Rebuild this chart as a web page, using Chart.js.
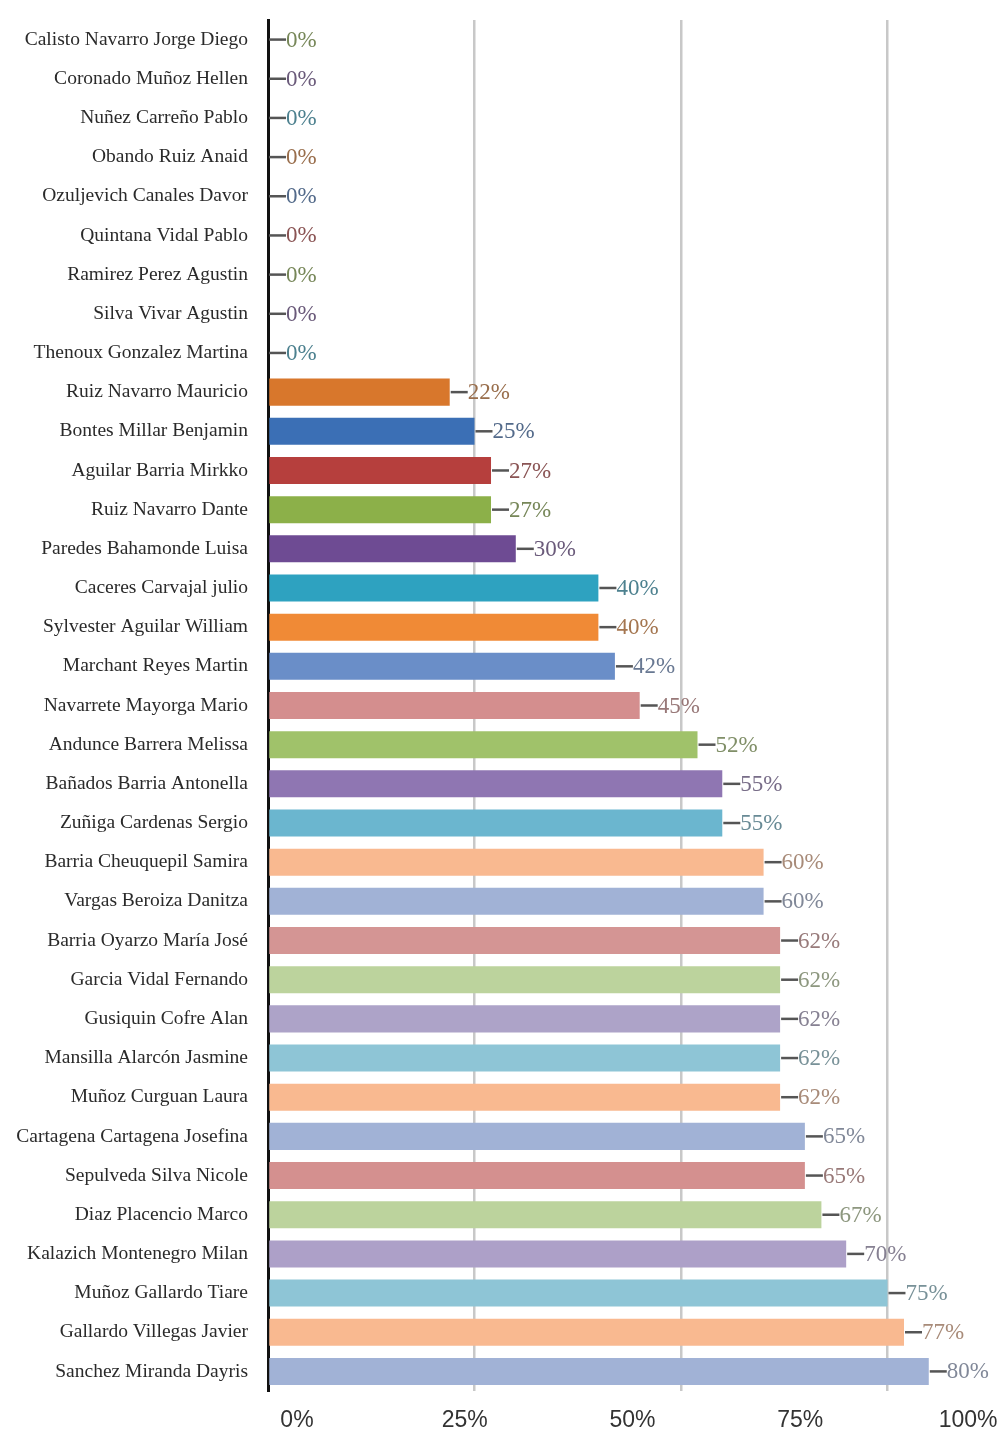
<!DOCTYPE html>
<html>
<head>
<meta charset="utf-8">
<script src="https://cdn.jsdelivr.net/npm/chart.js@4/dist/chart.umd.min.js"></script>
<style>
    html, body { margin: 0; padding: 0; background: #ffffff; }
    #wrap { width: 1007px; height: 1434px; }
</style>
</head>
<body>
<div id="wrap"><canvas id="chart" width="1007" height="1434"></canvas></div>
<script>
const names = [
    "Calisto Navarro Jorge Diego", "Coronado Muñoz Hellen", "Nuñez Carreño Pablo",
    "Obando Ruiz Anaid", "Ozuljevich Canales Davor", "Quintana Vidal Pablo",
    "Ramirez Perez Agustin", "Silva Vivar Agustin", "Thenoux Gonzalez Martina",
    "Ruiz Navarro Mauricio", "Bontes Millar Benjamin", "Aguilar Barria Mirkko",
    "Ruiz Navarro Dante", "Paredes Bahamonde Luisa", "Caceres Carvajal julio",
    "Sylvester Aguilar William", "Marchant Reyes Martin", "Navarrete Mayorga Mario",
    "Andunce Barrera Melissa", "Bañados Barria Antonella", "Zuñiga Cardenas Sergio",
    "Barria Cheuquepil Samira", "Vargas Beroiza Danitza", "Barria Oyarzo María José",
    "Garcia Vidal Fernando", "Gusiquin Cofre Alan", "Mansilla Alarcón Jasmine",
    "Muñoz Curguan Laura", "Cartagena Cartagena Josefina", "Sepulveda Silva Nicole",
    "Diaz Placencio Marco", "Kalazich Montenegro Milan", "Muñoz Gallardo Tiare",
    "Gallardo Villegas Javier", "Sanchez Miranda Dayris"
];

const percent = [
    0, 0, 0, 0, 0, 0, 0, 0, 0,
    22, 25, 27, 27, 30, 40, 40, 42, 45, 52, 55, 55,
    60, 60, 62, 62, 62, 62, 62, 65, 65, 67, 70, 75, 77, 80
];

const barColors = [
    "#8cb049", "#6e4b93", "#2ea2c0", "#d8772c", "#3b6fb5", "#b63f3d",
    "#8cb049", "#6e4b93", "#2ea2c0",
    "#d8772c", "#3b6fb5", "#b63f3d", "#8cb049", "#6e4b93", "#2ea2c0",
    "#f08a36", "#6a8ec8", "#d48e8e", "#a0c26a", "#8f76b2", "#6bb6cf",
    "#f9b990", "#a1b2d6", "#d49594", "#bcd39d", "#ada3c8", "#8ec5d6",
    "#f9b990", "#a1b2d6", "#d4908f", "#bcd39d", "#ada0c8", "#8ec5d6",
    "#f9b990", "#a1b2d6"
];

const bottomTicks = [0, 25, 50, 75, 100];

// muted text colour for the value labels
function labelColor(hex) {
    const r = parseInt(hex.slice(1, 3), 16), g = parseInt(hex.slice(3, 5), 16), b = parseInt(hex.slice(5, 7), 16);
    const mix = (c) => Math.round(c * 0.45 + 0x66 * 0.55);
    return "rgb(" + mix(r) + "," + mix(g) + "," + mix(b) + ")";
}

const valueLabels = {
    id: "valueLabels",
    afterDatasetsDraw(chart) {
        const ctx = chart.ctx;
        const meta = chart.getDatasetMeta(0);
        ctx.save();
        meta.data.forEach((bar, i) => {
            const x = bar.x + 1, y = bar.y;
            ctx.strokeStyle = "#555";
            ctx.lineWidth = 2.5;
            ctx.beginPath();
            ctx.moveTo(x, y);
            ctx.lineTo(x + 17, y);
            ctx.stroke();
            ctx.font = "23px 'Liberation Serif'";
            ctx.textBaseline = "middle";
            ctx.textAlign = "left";
            ctx.fillStyle = labelColor(barColors[i]);
            ctx.fillText(percent[i] + "%", x + 17, y + 1);
        });
        ctx.restore();
    }
};

// keep scales from adding their own label padding to the chart area
function noPad(scale) {
    scale.paddingTop = 0;
    scale.paddingBottom = 0;
    scale.paddingLeft = 0;
    scale.paddingRight = 0;
}

const chartOption = {
    indexAxis: "y",
    animation: false,
    responsive: false,
    layout: {
        padding: {top: 20, right: 0, bottom: 0, left: 0}
    },
    plugins: {
        legend: {display: false},
        tooltip: {enabled: false}
    },
    scales: {
        x: {
            position: "top",
            min: 0,
            max: 89.47,
            border: {display: false},
            grid: {
                drawTicks: false,
                lineWidth: 2.5,
                color: (c) => (c.tick && c.tick.value === 0) ? "rgba(0,0,0,0)" : "#c8c8c8"
            },
            afterFit: (scale) => { scale.height = 0; noPad(scale); },
            ticks: {display: false, stepSize: 25, includeBounds: false}
        },
        x2: {
            type: "linear",
            position: "bottom",
            min: -4.32,
            max: 105.8,
            border: {display: false},
            grid: {display: false, drawTicks: false},
            afterBuildTicks: (scale) => {
                scale.ticks = bottomTicks.map(v => ({value: v}));
            },
            afterFit: (scale) => { scale.height = 43; noPad(scale); },
            ticks: {
                padding: 16,
                color: "#333",
                font: {family: "'Liberation Sans', Arial", size: 23},
                callback: (v) => v + "%"
            }
        },
        y: {
            border: {display: true, color: "#111", width: 3},
            grid: {display: false, drawTicks: false},
            afterFit: (scale) => { scale.width = 268; noPad(scale); },
            ticks: {
                padding: 20,
                color: "#2a2a2a",
                font: {family: "'Liberation Serif', 'Times New Roman', serif", size: 19.5}
            }
        }
    }
};

const chartData = {
    labels: names,
    datasets: [{
        data: percent,
        backgroundColor: barColors,
        borderWidth: 0,
        barPercentage: 0.69,
        categoryPercentage: 1
    }]
};

new Chart(document.getElementById("chart"), {
    type: "bar",
    data: chartData,
    options: chartOption,
    plugins: [valueLabels]
});
</script>
</body>
</html>
